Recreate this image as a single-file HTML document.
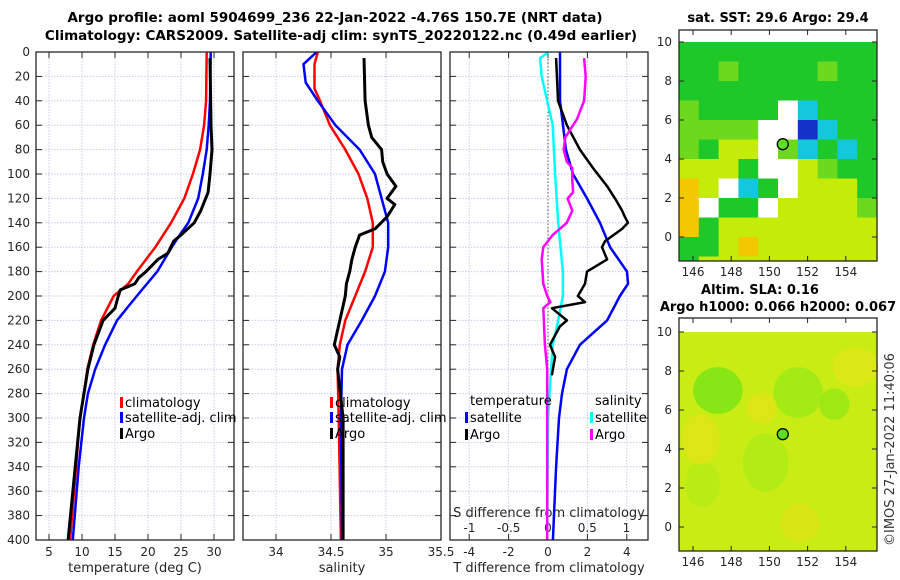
<!DOCTYPE html>
<html><head><meta charset="utf-8">
<style>
html,body{margin:0;padding:0;background:#fff;}
svg{display:block;font-family:"DejaVu Sans","Liberation Sans",sans-serif;}
</style></head>
<body>
<svg id="c" width="900" height="580" viewBox="0 0 900 580" xmlns="http://www.w3.org/2000/svg">
<rect width="900" height="580" fill="#fff"/>
<text x="335" y="22" font-size="13.5" font-weight="bold" text-anchor="middle">Argo profile: aoml 5904699_236 22-Jan-2022 -4.76S 150.7E (NRT data)</text>
<text x="341" y="40" font-size="13.5" font-weight="bold" text-anchor="middle">Climatology: CARS2009. Satellite-adj clim: synTS_20220122.nc (0.49d earlier)</text>
<text x="778" y="22" font-size="13" font-weight="bold" text-anchor="middle">sat. SST: 29.6 Argo: 29.4</text>
<text x="760" y="294" font-size="13" font-weight="bold" text-anchor="middle">Altim. SLA: 0.16</text>
<text x="778" y="311" font-size="13" font-weight="bold" text-anchor="middle">Argo h1000: 0.066 h2000: 0.067</text>
<text transform="translate(894,546) rotate(-90)" font-size="13" fill="#333">©IMOS 27-Jan-2022 11:40:06</text>
<g id="g"></g>
</svg>
<script>
// ---- profile data (depth in dbar) ----
const tClimDepth=[0,40,60,80,100,120,140,160,180,190,200,220,240,260,280,300,340,400];
const tClimVal=[28.9,28.8,28.5,27.9,26.8,25.5,23.5,21.1,18.3,17.0,14.8,12.9,11.7,10.8,10.3,9.7,9.1,8.2];
const tSatDepth=[0,40,60,80,100,120,140,150,160,180,200,220,240,260,280,300,340,400];
const tSatVal=[29.5,29.4,29.2,28.9,28.3,27.6,26.1,24.8,23.6,21.4,18.3,15.3,13.5,12.0,10.9,10.3,9.5,8.6];
const tArgoDepth=[5,60,80,100,115,130,140,150,155,165,170,180,185,190,195,200,210,220,240,260,300,400];
const tArgoVal=[29.4,29.55,29.7,29.4,29.1,28.0,27.0,25.0,23.9,23.0,21.5,19.7,18.6,18.0,15.8,15.5,15.0,13.2,11.8,10.9,9.7,7.9];

const sClimDepth=[0,10,30,40,60,80,100,120,140,160,180,200,220,240,260,300,400];
const sClimVal=[34.38,34.35,34.35,34.40,34.49,34.63,34.75,34.83,34.88,34.88,34.81,34.72,34.63,34.58,34.56,34.57,34.59];
const sSatDepth=[0,10,25,40,60,80,100,120,140,160,180,200,220,240,260,300,400];
const sSatVal=[34.37,34.25,34.27,34.38,34.54,34.76,34.90,34.96,35.02,35.02,34.99,34.90,34.78,34.65,34.60,34.59,34.60];
const sArgoDepth=[5,40,60,70,80,90,100,110,120,125,135,145,150,160,170,180,190,200,220,240,250,260,300,400];
const sArgoVal=[34.80,34.81,34.84,34.87,34.96,34.97,35.01,35.09,35.01,35.08,35.01,34.90,34.76,34.72,34.69,34.67,34.64,34.63,34.58,34.53,34.58,34.56,34.61,34.61];

const dtSatDepth=[0,40,60,80,100,120,140,160,180,190,200,220,240,260,280,300,340,400];
const dtSatVal=[0.61,0.61,0.76,0.91,1.27,1.98,2.64,3.15,4.01,4.06,3.65,3.0,1.62,0.96,0.71,0.56,0.41,0.25];
const dtArgoDepth=[5,40,60,80,95,110,120,130,135,140,145,155,160,170,180,190,200,205,210,220,225,240,250,260,265];
const dtArgoVal=[0.41,0.51,0.96,1.62,2.28,3.0,3.4,3.76,3.9,4.06,3.76,2.9,2.74,3.0,1.98,1.88,1.52,1.88,0.2,0.96,0.6,0.1,0.36,0.25,0.2];
const dsSatDepth=[0,5,20,60,100,140,180,200,220,240,260,300,400];
const dsSatVal=[0.01,-0.10,-0.08,0.06,0.09,0.13,0.19,0.19,0.13,0.06,0.04,0.0,-0.01];
const dsArgoDepth=[5,20,40,55,70,80,90,95,105,115,120,130,140,150,160,170,190,200,205,210,240,260,300,400];
const dsArgoVal=[0.46,0.48,0.46,0.37,0.22,0.20,0.24,0.31,0.31,0.32,0.25,0.31,0.24,0.06,-0.06,-0.08,-0.06,-0.01,0.03,-0.06,-0.04,-0.01,-0.01,-0.01];

const depthTicks=[0,20,40,60,80,100,120,140,160,180,200,220,240,260,280,300,320,340,360,380,400];
const tTicks=[5,10,15,20,25,30];
const sTicks=[34,34.5,35,35.5];
const dtTicks=[-4,-2,0,2,4];
const dsTicks=[-1,-0.5,0,0.5,1];
const latTicks=[0,2,4,6,8,10];
const lonTicks=[146,148,150,152,154];

const sstRows=["GGGGGGGGGG","GGgGGGGgGG","GGGGGGGGGG","gGGGGwcGGG","ggggwwBcGG","gGyywgcGcG","yyyGwwygGG","oywcGwyyyG","owGGwyyyyg","oGyyyyyyyy","GGyoyyyyyy","Gyyyyyyyyy"];
const sstColors={G:"#1ec828",g:"#6cd81e",y:"#c4ec08",o:"#f2c800",w:"#ffffff",c:"#14c8dc",B:"#1432c8"};
const argoLon=150.7, argoLat=4.76;

const NS="http://www.w3.org/2000/svg";
const root=document.getElementById('g');
function el(tag,attrs,parent){const e=document.createElementNS(NS,tag);for(const k in attrs)e.setAttribute(k,attrs[k]);(parent||root).appendChild(e);return e;}
function txt(s,x,y,attrs,parent){const e=el('text',Object.assign({x:x,y:y,'font-size':12,fill:'#262626'},attrs||{}),parent);e.textContent=s;return e;}

const yTop=52,yBot=540;
const yD=d=>yTop+d*(yBot-yTop)/400;
const xT=v=>49+(v-5)*6.6;
const xS=v=>276+(v-34)*110;
const xDT=v=>548+v*19.7;
const xDS=v=>548+v*78.5;
const panels=[{l:36,r:234,name:'temperature-panel'},{l:243,r:441,name:'salinity-panel'},{l:450,r:648,name:'difference-panel'}];

panels.forEach((p,i)=>{
  const g=el('g',{});
  
  
  const cp=el('clipPath',{id:'cp'+i},g);el('rect',{x:p.l,y:yTop,width:p.r-p.l,height:yBot-yTop},cp);
  p.g=g;
  depthTicks.forEach(d=>{
    const y=yD(d);
    if(d>0&&d<400){const gl=el('line',{x1:p.l,x2:p.r,y1:y,y2:y,stroke:'#c6cbe6','stroke-width':1,'stroke-dasharray':'1.5,1.5'},g);}
    el('line',{x1:p.l,x2:p.l+6,y1:y,y2:y,stroke:'#262626'},g);
    el('line',{x1:p.r-6,x2:p.r,y1:y,y2:y,stroke:'#262626'},g);
    if(i===0){const t=txt(String(d),30,y+4,{'text-anchor':'end'},g);}
  });
});
function vgrid(p,ticks,fx,labels){
  ticks.forEach(v=>{const x=fx(v);
    if(x>p.l+1&&x<p.r-1){
      const gl=el('line',{x1:x,x2:x,y1:yTop,y2:yBot,stroke:'#c6cbe6','stroke-width':1,'stroke-dasharray':'1.5,1.5'},p.g);
      
      el('line',{x1:x,x2:x,y1:yTop,y2:yTop+6,stroke:'#262626'},p.g);
      el('line',{x1:x,x2:x,y1:yBot-6,y2:yBot,stroke:'#262626'},p.g);}
    if(labels){const t=txt(String(v),x,556,{'text-anchor':'middle'},p.g);}
  });
}
vgrid(panels[0],tTicks,xT,true);
vgrid(panels[1],sTicks,xS,true);
vgrid(panels[2],dtTicks,xDT,true);
dsTicks.forEach(v=>{const t=txt(String(v),xDS(v),532,{'text-anchor':'middle'},panels[2].g);});
{const t=txt('S difference from climatology',549,517,{'text-anchor':'middle','font-size':13},panels[2].g);}
{const t=txt('temperature (deg C)',135,572,{'text-anchor':'middle','font-size':13});}
{const t=txt('salinity',342,572,{'text-anchor':'middle','font-size':13});}
{const t=txt('T difference from climatology',549,572,{'text-anchor':'middle','font-size':13});}

{const z=el('line',{x1:xDT(0),x2:xDT(0),y1:yTop,y2:yD(265),stroke:'#555','stroke-width':1,'stroke-dasharray':'1.5,2'},panels[2].g);}

function line(pi,depths,vals,fx,color,w,name){
  const pts=depths.map((d,k)=>fx(vals[k]).toFixed(1)+','+yD(d).toFixed(1)).join(' ');
  const pl=el('polyline',{points:pts,fill:'none',stroke:color,'stroke-width':w,'stroke-linejoin':'round','clip-path':'url(#cp'+pi+')'},panels[pi].g);
  
  
}
line(0,tClimDepth,tClimVal,xT,'#ff0000',2.5,'temperature-climatology-line');
line(0,tSatDepth,tSatVal,xT,'#0000ff',2.5,'temperature-satellite-line');
line(0,tArgoDepth,tArgoVal,xT,'#000',3,'temperature-argo-line');
line(1,sClimDepth,sClimVal,xS,'#ff0000',2.5,'salinity-climatology-line');
line(1,sSatDepth,sSatVal,xS,'#0000ff',2.5,'salinity-satellite-line');
line(1,sArgoDepth,sArgoVal,xS,'#000',3,'salinity-argo-line');
line(2,dsSatDepth,dsSatVal,xDS,'#00ffff',2.5,'salinity-diff-satellite-line');
line(2,dtSatDepth,dtSatVal,xDT,'#0000ff',2.5,'temperature-diff-satellite-line');
line(2,dtArgoDepth,dtArgoVal,xDT,'#000',2.5,'temperature-diff-argo-line');
line(2,dsArgoDepth,dsArgoVal,xDS,'#ff00ff',2.5,'salinity-diff-argo-line');

panels.forEach(p=>{const b=el('rect',{x:p.l,y:yTop,width:p.r-p.l,height:yBot-yTop,fill:'none',stroke:'#262626','stroke-width':1.3},p.g);});

function legend(x,y,color,label,g){
  const m=el('rect',{x:x,y:y-10,width:3,height:11,fill:color},g);
  
  const t=txt(label,x+5,y,{'font-size':13,fill:'#000'},g);
  
}
legend(120,407,'#ff0000','climatology',panels[0].g);
legend(120,422,'#0000ff','satellite-adj. clim',panels[0].g);
legend(120,438,'#000','Argo',panels[0].g);
legend(330,407,'#ff0000','climatology',panels[1].g);
legend(330,422,'#0000ff','satellite-adj. clim',panels[1].g);
legend(330,438,'#000','Argo',panels[1].g);
{const t=txt('temperature',470,405,{'font-size':13,fill:'#000'},panels[2].g);}
{const t=txt('salinity',595,405,{'font-size':13,fill:'#000'},panels[2].g);}
legend(465,422,'#0000ff','satellite',panels[2].g);
legend(465,439,'#000','Argo',panels[2].g);
legend(590,422,'#00ffff','satellite',panels[2].g);
legend(590,439,'#ff00ff','Argo',panels[2].g);

const mapL=679,mapR=877;
const xLon=lon=>693+(lon-146)*19.1;
function mapAxes(g,top,bot,yLat){
  latTicks.forEach(v=>{const y=yLat(v);
    el('line',{x1:mapL,x2:mapL+5,y1:y,y2:y,stroke:'#262626'},g);
    el('line',{x1:mapR-5,x2:mapR,y1:y,y2:y,stroke:'#262626'},g);
    const t=txt(String(v),672,y+4,{'text-anchor':'end'},g);});
  lonTicks.forEach(v=>{const x=xLon(v);
    el('line',{x1:x,x2:x,y1:bot-5,y2:bot,stroke:'#262626'},g);
    el('line',{x1:x,x2:x,y1:top,y2:top+5,stroke:'#262626'},g);
    const t=txt(String(v),x,bot+15,{'text-anchor':'middle'},g);});
  const c=el('circle',{cx:xLon(argoLon),cy:yLat(argoLat),r:5.5,fill:'#5ce01e',stroke:'#000','stroke-width':1.3},g);
  
  const f=el('rect',{x:mapL,y:top,width:mapR-mapL,height:bot-top,fill:'none',stroke:'#262626','stroke-width':1.3},g);
  
}
{
  const g=el('g',{});
  const top=30,bot=261,yLat=v=>237-v*19.5;
  const lonW=(mapR-mapL)/10;
  sstRows.forEach((row,r)=>{
    const y0=yLat(10-r), y1=Math.min(bot,yLat(9-r));
    row.split('').forEach((ch,c)=>{
      const cell=el('rect',{x:mapL+c*lonW,y:y0,width:lonW+0.5,height:y1-y0+0.5,fill:sstColors[ch]},g);
      
      
    });
  });
  mapAxes(g,top,bot,yLat);
}
{
  const g=el('g',{});
  const top=318,bot=551,yLat=v=>527-v*19.5;
  el('rect',{x:mapL,y:yLat(10),width:mapR-mapL,height:bot-yLat(10),fill:'#c8ec14'},g);
  [[147.3,7,1.3,1.2,'#88e614'],[151.5,6.9,1.3,1.3,'#a4ea14'],[153.4,6.3,0.8,0.8,'#9ee814'],[149.8,3.3,1.2,1.5,'#b2ec14'],[146.5,2.2,0.9,1.2,'#b8ec14'],[154.5,8.2,1.2,1,'#dce814'],[146.4,4.5,1,1.3,'#dce614'],[151.6,0.2,1,1,'#dae614'],[149.6,6.1,0.8,0.8,'#dce614']].forEach(b=>{
    const e=el('ellipse',{cx:xLon(b[0]),cy:yLat(b[1]),rx:b[2]*19,ry:b[3]*19.5,fill:b[4]},g);
    
  });
  mapAxes(g,top,bot,yLat);
}
</script>
</body></html>
